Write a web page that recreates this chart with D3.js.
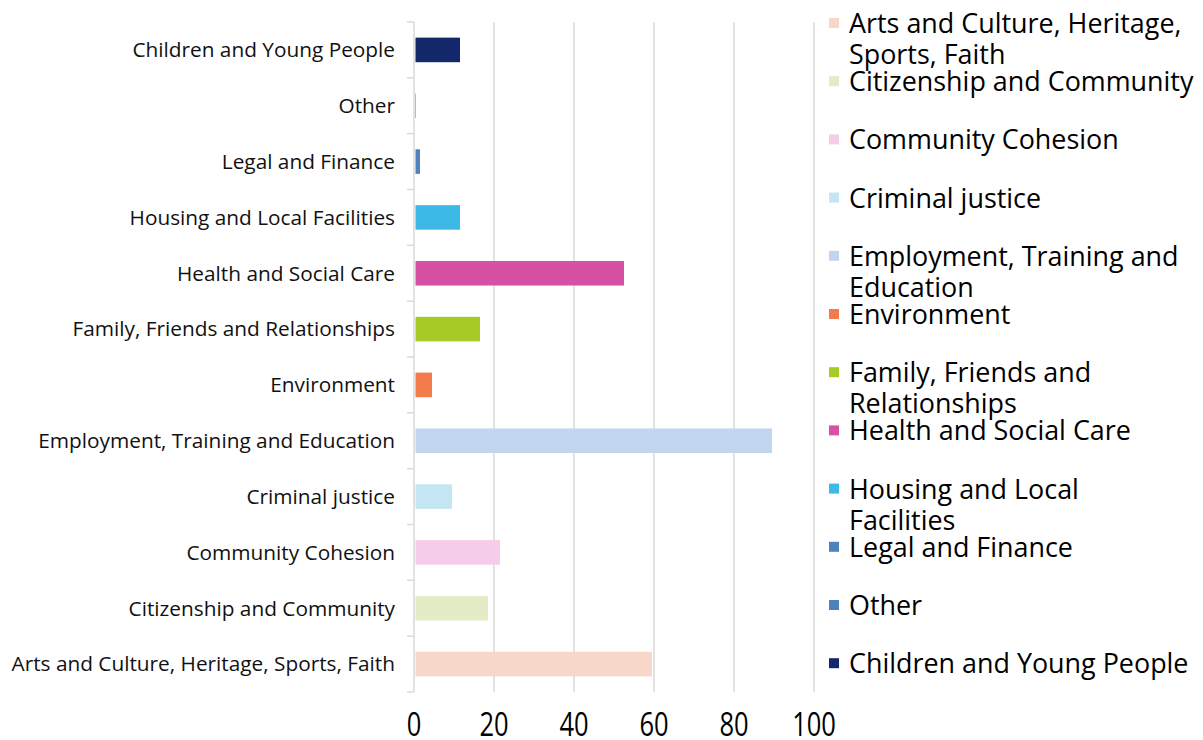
<!DOCTYPE html>
<meta charset="utf-8">
<head>
    <script src="https://d3js.org/d3.v7.min.js"></script>
    <style>
        body { margin: 0; background: #fff; }
        svg { display: block; font-family: "Open Sans", "Noto Sans", sans-serif; }
    </style>
</head>
<body>
<div id="chart"></div>
<script>

    // categories top to bottom, as drawn on the y axis
    const categories = [
        "Children and Young People",
        "Other",
        "Legal and Finance",
        "Housing and Local Facilities",
        "Health and Social Care",
        "Family, Friends and Relationships",
        "Environment",
        "Employment, Training and Education",
        "Criminal justice",
        "Community Cohesion",
        "Citizenship and Community",
        "Arts and Culture, Heritage, Sports, Faith"
    ]
    const values = [11.5, 0.5, 1.5, 11.5, 52.5, 16.5, 4.5, 89.5, 9.5, 21.5, 18.5, 59.5]
    const colors = ["#13286a", "#4f81bd", "#4f81bd", "#3cb9e6", "#d651a4", "#a6cb26",
                    "#f47b4a", "#c2d5ef", "#c3e6f2", "#f5cde8", "#e3ecc6", "#f7d7c9"]
    const xTicks = [0, 20, 40, 60, 80, 100]

    // legend entries (bottom category first), broken where the legend wraps them
    const legendLabels = [
        ["Arts and Culture, Heritage,", "Sports, Faith"],
        ["Citizenship and Community"],
        ["Community Cohesion"],
        ["Criminal justice"],
        ["Employment, Training and", "Education"],
        ["Environment"],
        ["Family, Friends and", "Relationships"],
        ["Health and Social Care"],
        ["Housing and Local", "Facilities"],
        ["Legal and Finance"],
        ["Other"],
        ["Children and Young People"]
    ]

    const svg = d3.select("#chart").append("svg")
        .attr("width", 1203)
        .attr("height", 740)

    const x = d3.scaleLinear()
        .domain([0, 100])
        .range([414, 814])

    const plotTop = 22, plotBottom = 692

    const y = d3.scaleBand()
        .domain(categories)
        .range([plotTop, plotBottom])
        .paddingInner(0.56)
        .paddingOuter(0.28)

    // vertical gridlines
    svg.append("g").selectAll("line")
        .data(xTicks.filter(d => d > 0))
        .join("line")
        .attr("x1", d => x(d)).attr("x2", d => x(d))
        .attr("y1", plotTop).attr("y2", plotBottom)
        .attr("stroke", "#d9d9d9")
        .attr("stroke-width", 1.5)

    // category axis line + ticks at band edges
    svg.append("line")
        .attr("x1", x(0)).attr("x2", x(0))
        .attr("y1", plotTop).attr("y2", plotBottom)
        .attr("stroke", "#d9d9d9")
        .attr("stroke-width", 1.5)

    svg.append("g").selectAll("line")
        .data(d3.range(categories.length + 1))
        .join("line")
        .attr("x1", x(0) - 7).attr("x2", x(0))
        .attr("y1", i => plotTop + i * y.step()).attr("y2", i => plotTop + i * y.step())
        .attr("stroke", "#d9d9d9")
        .attr("stroke-width", 1.5)

    // bars
    svg.append("g").selectAll("rect")
        .data(categories)
        .join("rect")
        .attr("x", x(0) + 1.5)
        .attr("y", d => y(d))
        .attr("width", (d, i) => Math.max(0, x(values[i]) - x(0) - 1.5))
        .attr("height", y.bandwidth())
        .attr("fill", (d, i) => colors[i])

    // category labels
    svg.append("g").selectAll("text")
        .data(categories)
        .join("text")
        .attr("x", 395)
        .attr("y", d => y(d) + y.bandwidth() / 2)
        .attr("dy", "0.35em")
        .attr("text-anchor", "end")
        .attr("font-size", 20.8)
        .attr("fill", "#111")
        .text(d => d)

    // value axis labels (narrow, tall digits as in the original)
    svg.append("g").selectAll("text")
        .data(xTicks)
        .join("text")
        .attr("transform", d => `translate(${x(d)}, 736) scale(1, 1.25)`)
        .attr("text-anchor", "middle")
        .attr("font-size", 25.5)
        .attr("fill", "#000")
        .text(d => d)

    // legend
    const legendColors = colors.slice().reverse()
    const legend = svg.append("g")
    const lx = 849, ly0 = 33, lstep = 58.2, lineH = 31

    legendLabels.forEach((lines, i) => {
        const by = ly0 + i * lstep
        legend.append("rect")
            .attr("x", 829).attr("y", by - 15)
            .attr("width", 10).attr("height", 10)
            .attr("fill", legendColors[i])

        legend.append("text")
            .attr("font-size", 26.9)
            .attr("fill", "#000")
            .selectAll("tspan")
            .data(lines)
            .join("tspan")
            .attr("x", lx)
            .attr("y", (d, j) => by + j * lineH)
            .text(d => d)
    })

</script>
</body>
